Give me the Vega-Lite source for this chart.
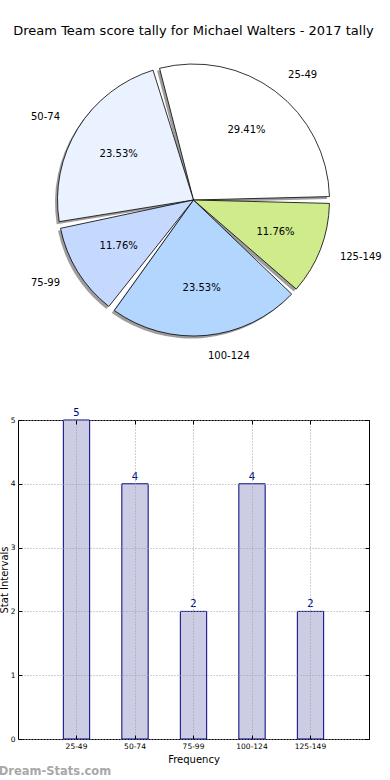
{
  "$schema": "https://vega.github.io/schema/vega-lite/v6.json",
  "padding": {"left": -2, "top": 25, "right": 3, "bottom": 0},
  "background": "white",
  "config": {
    "font": "DejaVu Sans",
    "view": {"stroke": null},
    "title": {"font": "DejaVu Sans"}
  },
  "datasets": {
    "tally": [
      {"range": "25-49", "count": 5, "share": "29.41%"},
      {"range": "50-74", "count": 4, "share": "23.53%"},
      {"range": "75-99", "count": 2, "share": "11.76%"},
      {"range": "100-124", "count": 4, "share": "23.53%"},
      {"range": "125-149", "count": 2, "share": "11.76%"}
    ]
  },
  "title": {
    "text": "Dream-Stats.com",
    "orient": "bottom",
    "anchor": "start",
    "frame": "bounds",
    "fontSize": 11.5,
    "fontWeight": "bold",
    "color": "#a8a8a8",
    "offset": 1
  },
  "bounds": "flush",
  "spacing": 66,
  "vconcat": [
    {
      "width": 351,
      "height": 308,
      "view": {"stroke": null},
      "title": {
        "text": "Dream Team score tally for Michael Walters - 2017 tally",
        "fontSize": 13,
        "fontWeight": "normal",
        "color": "black",
        "offset": 8
      },
      "data": {"name": "tally"},
      "transform": [
        {"window": [{"op": "row_number", "as": "rank"}]},
        {"window": [{"op": "sum", "field": "count", "as": "cum"}], "frame": [null, 0]},
        {"joinaggregate": [{"op": "sum", "field": "count", "as": "total"}]}
      ],
      "encoding": {
        "theta": {
          "field": "count",
          "type": "quantitative",
          "stack": true,
          "scale": {"range": [1.5708, -4.7124]}
        },
        "order": {"field": "rank", "type": "quantitative"}
      },
      "layer": [
        {
          "mark": {
            "type": "arc",
            "radius": 136,
            "padAngle": 0.05,
            "fill": "#4d4d4d",
            "opacity": 0.55,
            "xOffset": -2.5,
            "yOffset": 2.5
          }
        },
        {
          "mark": {
            "type": "arc",
            "radius": 136,
            "padAngle": 0.05,
            "stroke": "black",
            "strokeWidth": 0.8
          },
          "encoding": {
            "color": {
              "field": "range",
              "type": "nominal",
              "scale": {
                "domain": ["25-49", "50-74", "75-99", "100-124", "125-149"],
                "range": ["#ffffff", "#ebf2ff", "#c5d9ff", "#b3d6ff", "#cfeb8c"]
              },
              "legend": null
            }
          }
        },
        {
          "mark": {"type": "text", "radius": 88, "fontSize": 10, "color": "black", "baseline": "middle"},
          "encoding": {"text": {"field": "share", "type": "nominal"}}
        },
        {
          "mark": {
            "type": "text",
            "radius": 157,
            "fontSize": 10,
            "color": "black",
            "baseline": "middle",
            "align": {"expr": "((datum.cum - datum.count / 2) / datum.total > 0.25 && (datum.cum - datum.count / 2) / datum.total < 0.75) ? 'right' : 'left'"}
          },
          "encoding": {
            "text": {"field": "range", "type": "nominal"}
          }
        }
      ]
    },
    {
      "width": 351,
      "height": 319,
      "view": {"stroke": "black", "strokeWidth": 1},
      "data": {"name": "tally"},
      "resolve": {"axis": {"x": "independent", "y": "independent"}},
      "layer": [
        {
          "mark": {"type": "bar", "fill": "#ccccE5", "stroke": "#000080", "strokeWidth": 1},
          "encoding": {
            "x": {
              "field": "range",
              "type": "nominal",
              "sort": null,
              "scale": {"paddingInner": 0.55, "paddingOuter": 0.775},
              "axis": {
                "title": "Frequency",
                "titleFontSize": 10,
                "titleFontWeight": "normal",
                "titleColor": "black",
                "titlePadding": 5,
                "labelAngle": 0,
                "labelFontSize": 7.5,
                "labelColor": "black",
                "labelPadding": 7,
                "domain": false,
                "ticks": true,
                "tickSize": -4,
                "tickColor": "black",
                "bandPosition": 0.5,
                "grid": true,
                "gridDash": [1, 2],
                "gridColor": "#a0a0a0",
                "gridWidth": 1,
                "zindex": 1
              }
            },
            "y": {
              "field": "count",
              "type": "quantitative",
              "scale": {"domain": [0, 5], "nice": false},
              "axis": {
                "title": "Stat Intervals",
                "titleFontSize": 10,
                "titleFontWeight": "normal",
                "titleColor": "black",
                "titlePadding": 1,
                "values": [0, 1, 2, 3, 4, 5],
                "format": "d",
                "labelFontSize": 7.5,
                "labelColor": "black",
                "labelPadding": 7,
                "domain": false,
                "ticks": true,
                "tickSize": -4,
                "tickColor": "black",
                "grid": true,
                "gridDash": [1, 2],
                "gridColor": "#a0a0a0",
                "gridWidth": 1,
                "zindex": 1
              }
            }
          }
        },
        {
          "mark": {"type": "text", "baseline": "bottom", "dy": -2, "fontSize": 10, "color": "#000080"},
          "encoding": {
            "x": {
              "field": "range",
              "type": "nominal",
              "sort": null,
              "axis": {
                "orient": "top",
                "title": null,
                "labels": false,
                "domain": false,
                "ticks": true,
                "tickSize": -4,
                "tickColor": "black",
                "bandPosition": 0.5,
                "grid": false,
                "zindex": 1
              }
            },
            "y": {
              "field": "count",
              "type": "quantitative",
              "axis": {
                "orient": "right",
                "title": null,
                "labels": false,
                "values": [0, 1, 2, 3, 4, 5],
                "domain": false,
                "ticks": true,
                "tickSize": -4,
                "tickColor": "black",
                "grid": false,
                "zindex": 1
              }
            },
            "text": {"field": "count", "type": "quantitative"}
          }
        }
      ]
    }
  ]
}
